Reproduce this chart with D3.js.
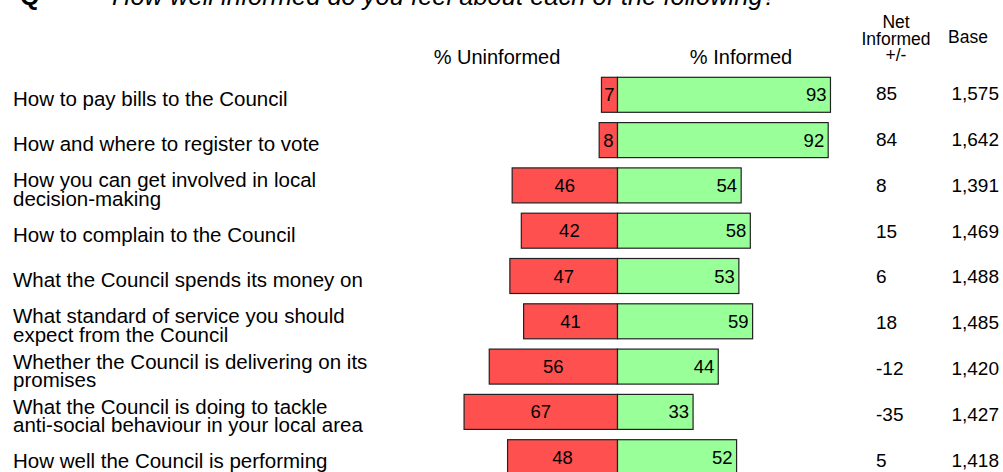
<!DOCTYPE html>
<html>
<head>
<meta charset="utf-8">
<script src="https://cdn.jsdelivr.net/npm/d3@7"></script>
<style>
  html, body { margin: 0; padding: 0; background: #fff; }
  svg { display: block; font-family: "Liberation Sans", Arial, Helvetica, sans-serif; }
</style>
</head>
<body>
<svg id="chart" width="1003" height="472"></svg>
<script>
const title = "How well informed do you feel about each of the following?";
const categories = [
  ["How to pay bills to the Council"],
  ["How and where to register to vote"],
  ["How you can get involved in local", "decision-making"],
  ["How to complain to the Council"],
  ["What the Council spends its money on"],
  ["What standard of service you should", "expect from the Council"],
  ["Whether the Council is delivering on its", "promises"],
  ["What the Council is doing to tackle", "anti-social behaviour in your local area"],
  ["How well the Council is performing"]
];
const uninformed = [7, 8, 46, 42, 47, 41, 56, 67, 48];
const informed = [93, 92, 54, 58, 53, 59, 44, 33, 52];
const netInformed = ["85", "84", "8", "15", "6", "18", "-12", "-35", "5"];
const base = ["1,575", "1,642", "1,391", "1,469", "1,488", "1,485", "1,420", "1,427", "1,418"];
const headers = { uninformed: "% Uninformed", informed: "% Informed", net: ["Net", "Informed", "+/-"], base: "Base" };

const svg = d3.select("#chart");
const idx = d3.range(categories.length);

const x = d3.scaleLinear().domain([-100, 100]).range([617.5 - 229, 617.5 + 229]);
const y = d3.scalePoint().domain(idx).range([94.8, 457.2]);
const yText = d3.scalePoint().domain(idx).range([94.8, 462]);
const barH = 35;
const RED = "#ff5050", GREEN = "#99ff99";

// Title
svg.append("text").attr("x", 20).attr("y", 5).attr("font-size", 25).attr("font-weight", "bold").text("Q");
svg.append("text").attr("x", 112).attr("y", 5).attr("font-size", 25.5).attr("font-style", "italic").text(title);

// Headers
svg.append("text").attr("x", 497).attr("y", 64).attr("text-anchor", "middle").attr("font-size", 20).text(headers.uninformed);
svg.append("text").attr("x", 741).attr("y", 64).attr("text-anchor", "middle").attr("font-size", 20).text(headers.informed);
svg.append("g").selectAll("text").data(headers.net).join("text")
  .attr("x", 896).attr("y", (d, i) => 28 + i * 16.5).attr("text-anchor", "middle").attr("font-size", 17.5).text(d => d);
svg.append("text").attr("x", 948).attr("y", 43).attr("font-size", 17.5).text(headers.base);

// Row labels
const lab = svg.append("g");
idx.forEach(i => {
  const lines = categories[i];
  const c = y(i);
  const t = lab.append("text").attr("font-size", 20.5);
  lines.forEach((ln, k) => {
    const by = lines.length === 1 ? c + 11 : c + 2 + k * 18.5;
    t.append("tspan").attr("x", 13).attr("y", by).text(ln);
  });
});

// Bars
const bars = svg.append("g");
bars.selectAll("rect.un").data(idx).join("rect").attr("class", "un")
  .attr("x", i => x(-uninformed[i])).attr("y", i => y(i) - barH / 2)
  .attr("width", i => x(0) - x(-uninformed[i])).attr("height", barH)
  .attr("fill", RED).attr("stroke", "#222").attr("stroke-width", 1.2);
bars.selectAll("rect.in").data(idx).join("rect").attr("class", "in")
  .attr("x", x(0)).attr("y", i => y(i) - barH / 2)
  .attr("width", i => x(informed[i]) - x(0)).attr("height", barH)
  .attr("fill", GREEN).attr("stroke", "#222").attr("stroke-width", 1.2);

bars.selectAll("text.unv").data(idx).join("text").attr("class", "unv")
  .attr("x", i => (x(-uninformed[i]) + x(0)) / 2).attr("y", i => y(i) + 6.5)
  .attr("text-anchor", "middle").attr("font-size", 18.5).text(i => uninformed[i]);
bars.selectAll("text.inv").data(idx).join("text").attr("class", "inv")
  .attr("x", i => x(informed[i]) - 4).attr("y", i => y(i) + 6.5)
  .attr("text-anchor", "end").attr("font-size", 18.5).text(i => informed[i]);

// Right columns
svg.append("g").selectAll("text").data(idx).join("text")
  .attr("x", 876).attr("y", i => yText(i) + 5).attr("font-size", 19).text(i => netInformed[i]);
svg.append("g").selectAll("text").data(idx).join("text")
  .attr("x", 999).attr("y", i => yText(i) + 5).attr("text-anchor", "end").attr("font-size", 19).text(i => base[i]);
</script>
</body>
</html>
